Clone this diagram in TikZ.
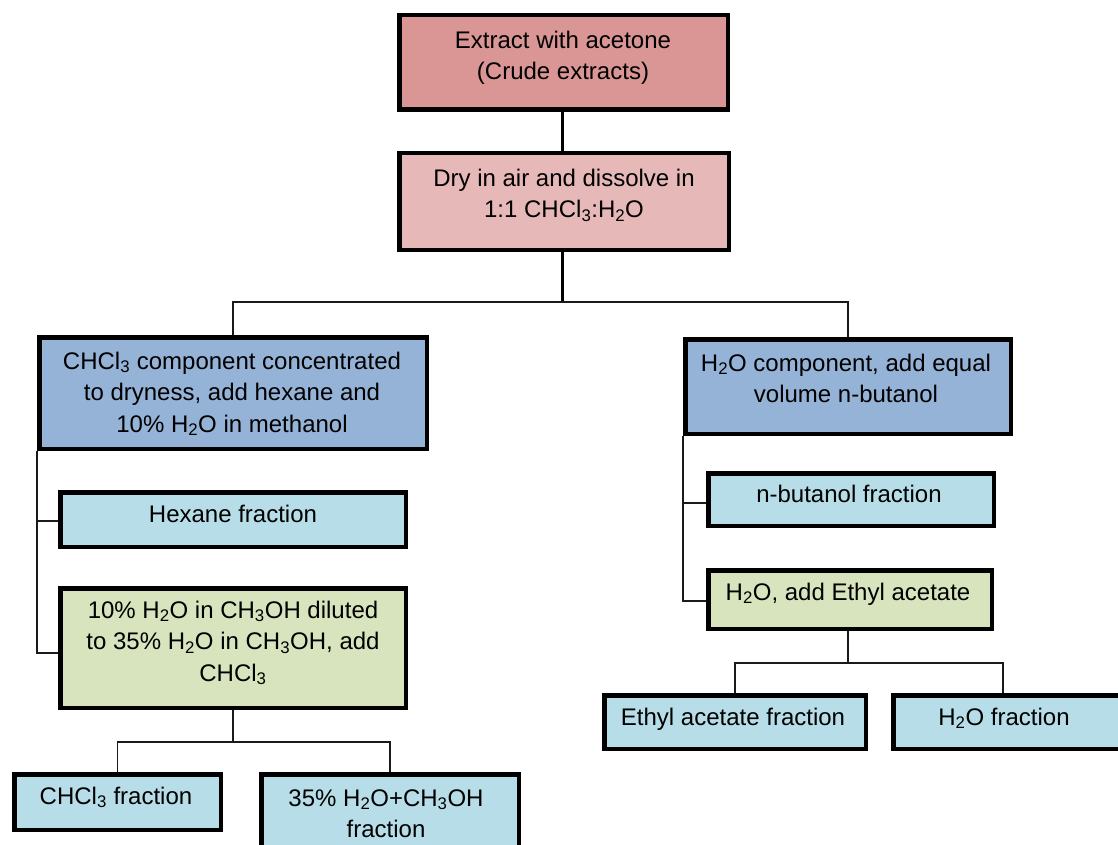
\documentclass[tikz,border=0pt]{standalone}
\usepackage{fontspec}
\setmainfont{Liberation Sans}
\newcommand{\sbs}[1]{\textsubscript{#1}}
\newcommand{\fl}{\rule{0pt}{24pt}}
\definecolor{cRed}{HTML}{D99694}
\definecolor{cPink}{HTML}{E6B9B8}
\definecolor{cBlue}{HTML}{95B3D7}
\definecolor{cLight}{HTML}{B7DEE8}
\definecolor{cGreen}{HTML}{D7E4BD}
\definecolor{cLine}{HTML}{1A1A1A}
\begin{document}
\begin{tikzpicture}[x=1pt,y=-1pt,
  box/.style={draw=black, line width=4.5pt, rectangle, inner sep=0pt},
  txt/.style={anchor=north, inner sep=0pt, align=center, text=black,
    font=\fontsize{24}{31.5}\selectfont},
  conn/.style={draw=cLine, line width=1.5pt},
  connT/.style={draw=black, line width=3pt}]
\useasboundingbox (0,0) rectangle (1118,845);
% boxes: centre = middle of outer edges, size = outer size - line width
\node[box, fill=cRed,   minimum width=328.5pt, minimum height=94.5pt]  (b1) at (563.5,62.5) {};
\node[box, fill=cPink,  minimum width=329.5pt, minimum height=96.5pt]  (b2) at (564,201.5) {};
\node[box, fill=cBlue,  minimum width=387.5pt, minimum height=111.5pt] (b3) at (233,393) {};
\node[box, fill=cBlue,  minimum width=325.5pt, minimum height=94.5pt]  (b4) at (848,386.5) {};
\node[box, fill=cLight, minimum width=345.5pt, minimum height=54.5pt]  (hx) at (233,519.5) {};
\node[box, fill=cGreen, minimum width=345.5pt, minimum height=119.5pt] (g1) at (233,648) {};
\node[box, fill=cLight, minimum width=285.5pt, minimum height=52.5pt]  (nb) at (851,499.5) {};
\node[box, fill=cGreen, minimum width=283.5pt, minimum height=58.5pt]  (g2) at (850,599.5) {};
\node[box, fill=cLight, minimum width=206.5pt, minimum height=55.5pt]  (cf) at (117.5,802) {};
\node[box, fill=cLight, minimum width=257.5pt, minimum height=83.5pt]  (mf) at (390,816) {};
\node[box, fill=cLight, minimum width=261.5pt, minimum height=53.5pt]  (ea) at (735,722) {};
\node[box, fill=cLight, minimum width=245.5pt, minimum height=53.5pt]  (hf) at (1016,722) {};
% texts
\node[txt] (t1) at (563,24)  {\fl Extract with acetone\\(Crude extracts)};
\node[txt] (t2) at (564,162) {\fl Dry in air and dissolve in\\1:1 CHCl\sbs{3}:H\sbs{2}O};
\node[txt] (t3) at (232,345) {\fl CHCl\sbs{3} component concentrated\\to dryness, add hexane and\\10\% H\sbs{2}O in methanol};
\node[txt] (t4) at (846,347) {\fl H\sbs{2}O component, add equal\\volume n-butanol};
\node[txt] (t5) at (233,498) {\fl Hexane fraction};
\node[txt] (t6) at (233,594) {\fl 10\% H\sbs{2}O in CH\sbs{3}OH diluted\\to 35\% H\sbs{2}O in CH\sbs{3}OH, add\\CHCl\sbs{3}};
\node[txt] (t7) at (849,478) {\fl n-butanol fraction};
\node[txt] (t8) at (848,576) {\fl H\sbs{2}O, add Ethyl acetate};
\node[txt] (t9) at (116,780) {\fl CHCl\sbs{3} fraction};
\node[txt] (t10) at (386,782) {\fl 35\% H\sbs{2}O+CH\sbs{3}OH\\fraction};
\node[txt] (t11) at (733,701) {\fl Ethyl acetate fraction};
\node[txt] (t12) at (1004,701) {\fl H\sbs{2}O fraction};
% connectors
\coordinate (j1) at (562,302);
\coordinate (j2) at (233,742);
\coordinate (j3) at (848,663);
\draw[connT] (b1.south -| j1) -- (b2.north -| j1);
\draw[connT] (b2.south -| j1) -- (j1);
\draw[conn] (b3.north) |- (j1) -| (b4.north);
\draw[conn] (b3.south west) |- ([yshift=-1.5pt]hx.west);
\draw[conn] (b3.south west) |- ([yshift=-5pt]g1.west);
\draw[conn] (b4.south west) |- ([yshift=-3.5pt]nb.west);
\draw[conn] (b4.south west) |- ([yshift=-1.5pt]g2.west);
\draw[conn] (g1.south -| j2) -- (j2);
\draw[conn] (cf.north) |- (j2) -| (mf.north);
\draw[conn] (g2.south -| j3) -- (j3);
\draw[conn] (ea.north) |- (j3) -| ([xshift=-13pt]hf.north);
\end{tikzpicture}
\end{document}
